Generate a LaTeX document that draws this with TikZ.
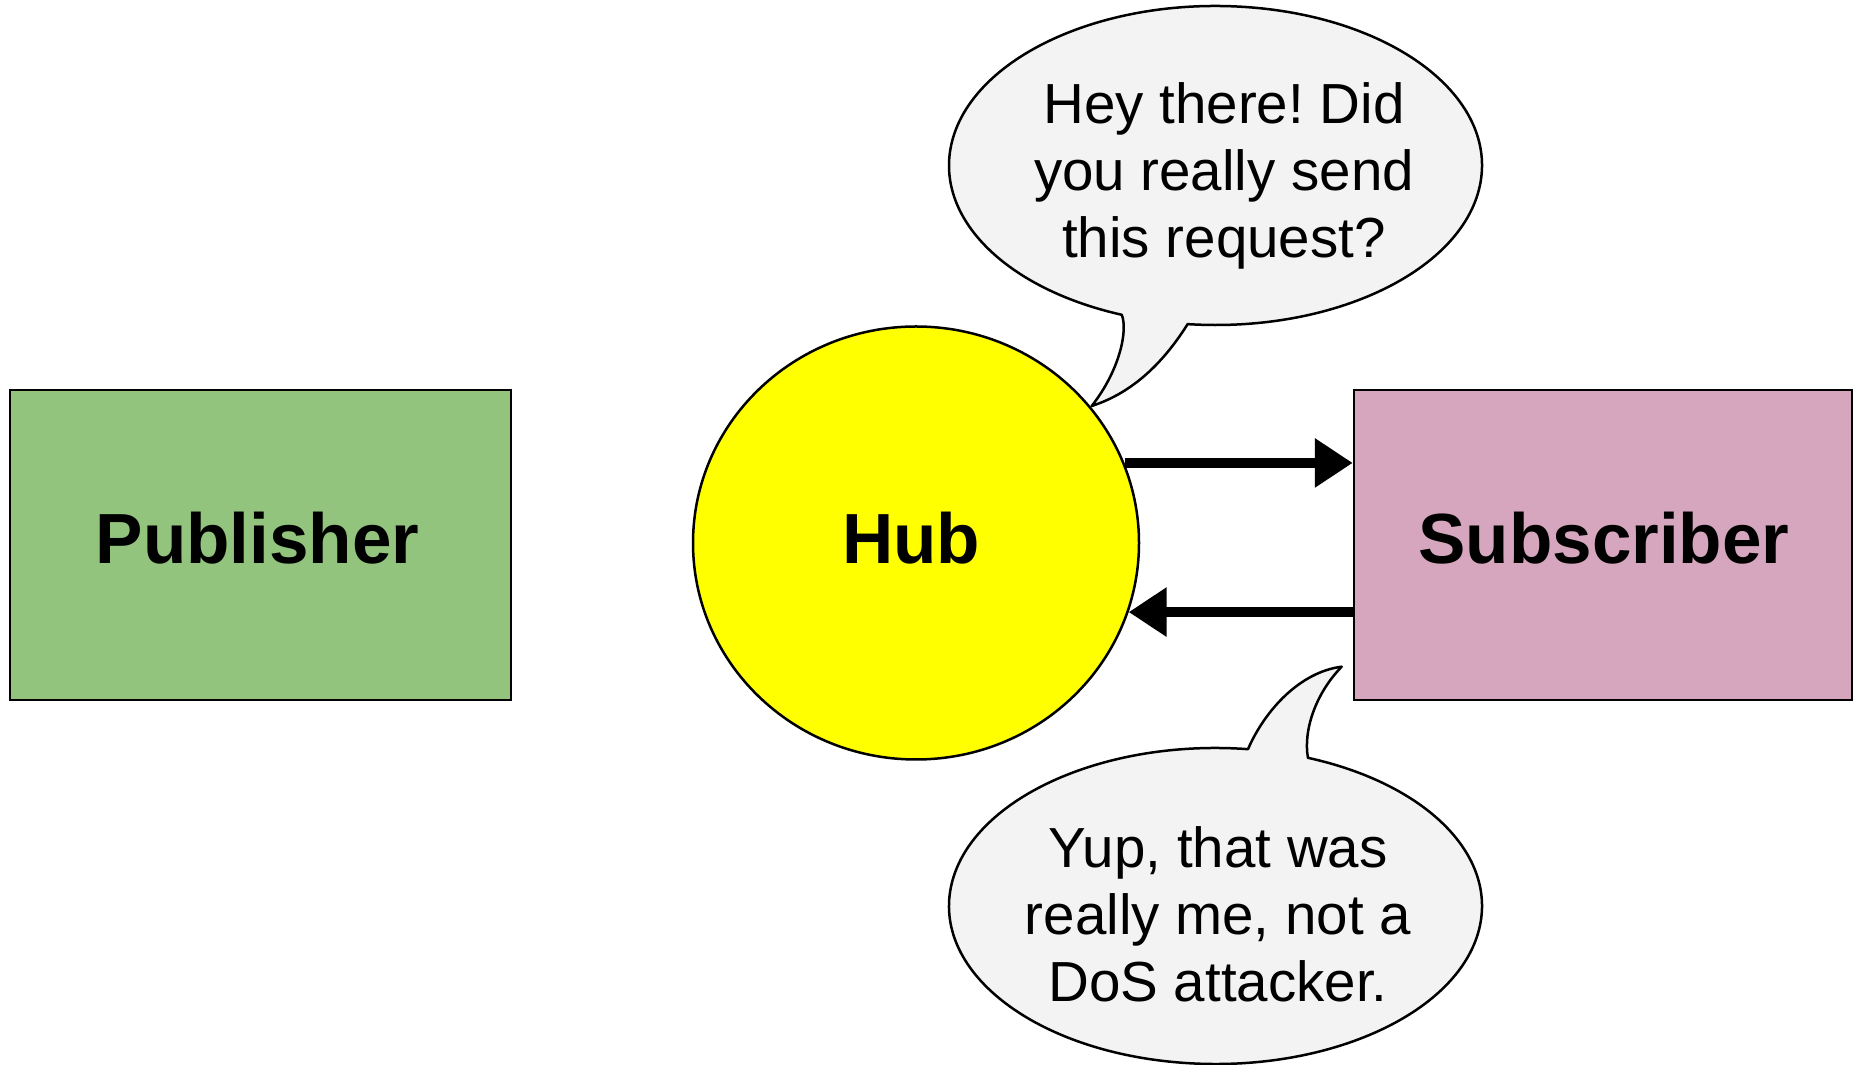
\documentclass[tikz,border=0pt]{standalone}
\usepackage{fontspec}
\setmainfont{Liberation Sans}
\usetikzlibrary{shapes.geometric,arrows.meta}
\definecolor{pubgreen}{HTML}{93C47D}
\definecolor{subpink}{HTML}{D5A6BD}
\definecolor{hubyellow}{HTML}{FFFF00}
\definecolor{bubblegray}{HTML}{F3F3F3}
\frenchspacing
\tikzset{
  actor/.style={draw, line width=2.5pt, inner sep=0pt, minimum height=310pt},
  biglabel/.style={font=\fontsize{71}{85}\selectfont\bfseries, inner sep=0pt},
  bubble/.style={draw, line width=2.5pt, fill=bubblegray, line join=round},
  saytext/.style={font=\fontsize{56.5}{67}\selectfont, align=center, inner sep=0pt},
  arr/.style={line width=10pt, -{Triangle[length=38pt, width=47pt]}}
}
\begin{document}
\begin{tikzpicture}[x=1pt, y=1pt]
\useasboundingbox (0,0) rectangle (1855,1065);

% participants
\node[actor, fill=pubgreen, minimum width=501pt] (pub) at (260.5,520) {};
\node[biglabel] (publabel) at ([xshift=-3pt, yshift=7pt]pub.center) {Publisher};

\node[actor, fill=subpink, minimum width=498pt] (sub) at (1603,520) {};
\node[biglabel] (sublabel) at ([xshift=1pt, yshift=7pt]sub.center) {Subscriber};

\node[ellipse, draw, line width=2.5pt, fill=hubyellow, inner sep=0pt,
      minimum width=446pt, minimum height=433pt] (hub) at (916,522) {};
\node[biglabel] (hublabel) at ([xshift=-5pt, yshift=5pt]hub.center) {Hub};

% request and answer arrows
\draw[arr] (hub.21.4) -- (hub.21.4 -| sub.west);
\draw[arr] (hub.-18.4 -| sub.west) -- (hub.-18.4);

% speech bubble of the hub
\coordinate (qc) at (1215.5,899.5);
\coordinate (qtip) at (1091.7,659);
\path (qc) ++(264:266.5 and 159.5) coordinate (qr);
\draw[bubble] (qr) arc[start angle=264, end angle=609.4, x radius=266.5, y radius=159.5]
  .. controls (1128,735) and (1120,695) .. (qtip)
  .. controls (1135,673) and (1165,705) .. (qr) -- cycle;
\node[saytext] (qtext) at (1224,889) {Hey there! Did\\you really send\\this request?};

% speech bubble of the subscriber
\coordinate (ac) at (1215.5,159);
\coordinate (atip) at (1341.7,398.3);
\path (ac) ++(83:266.5 and 158) coordinate (al);
\path (ac) ++(69.7:266.5 and 158) coordinate (ar);
\draw[bubble] (al) arc[start angle=83, end angle=429.7, x radius=266.5, y radius=158]
  .. controls (1303,335) and (1316,372) .. (atip)
  .. controls (1300,393) and (1265,355) .. (al) -- cycle;
\node[saytext] (atext) at (1218,150.5) {Yup, that was\\really me, not a\\DoS attacker.};
\end{tikzpicture}
\end{document}
